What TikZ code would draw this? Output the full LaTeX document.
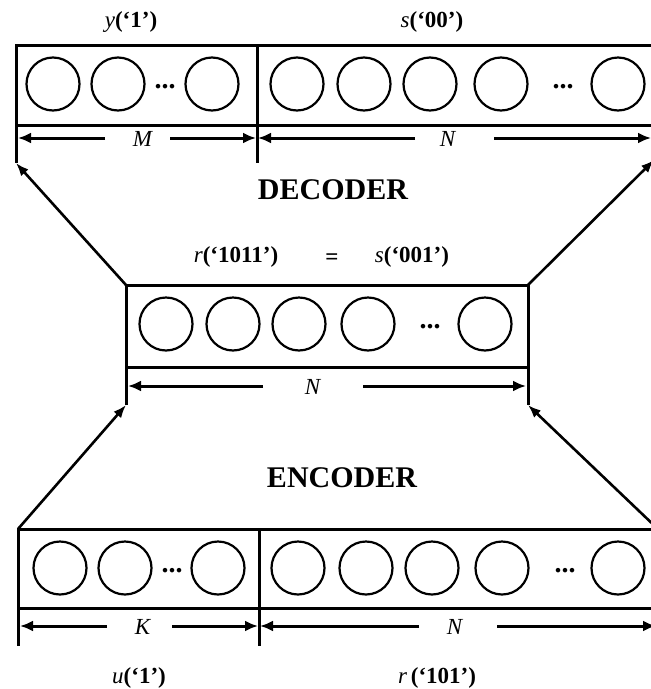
\documentclass[tikz,border=0pt]{standalone}
\usepackage{fontspec}
\setmainfont{Liberation Serif}
\usetikzlibrary{arrows.meta}
\begin{document}
\begin{tikzpicture}[x=1pt,y=-1pt,
 boxst/.style={draw,line width=3pt,rectangle,inner sep=0pt,outer sep=0pt,anchor=north west},
 unitst/.style={draw,circle,line width=2.2pt,minimum size=53pt,inner sep=0pt},
 dotst/.style={font=\fontsize{28}{28}\selectfont\bfseries,inner sep=0pt},
 lblst/.style={font=\fontsize{23}{26}\selectfont,inner sep=0pt},
 titlest/.style={font=\fontsize{30}{34}\selectfont\bfseries,inner sep=0pt},
 tickst/.style={line width=3pt},
 dimst/.style={line width=3pt,-{Latex[length=13pt,width=11pt]}},
 connst/.style={line width=2.6pt,-{Latex[length=13pt,width=10pt]}}]
\useasboundingbox (0,0) rectangle (651,689);
\clip (0,0) rectangle (651,689);

% ---------- top box (decoder output) ----------
\node[boxst,minimum width=638pt,minimum height=80pt] (topbox) at (16,45) {};
\coordinate (tdivt) at (257,45);
\coordinate (tdivb) at (257,163);
\coordinate (tleftb) at (16,163);
\draw[tickst] (tdivt) -- (tdivb);
\draw[tickst] (topbox.south west) -- (tleftb);
\foreach \x/\n in {53/t1,118/t2,212/t3,297/t4,364/t5,430/t6,501/t7,618/t8}
  \node[unitst] (\n) at (\x,84) {};
\node[dotst] (td1) at (165,87) {...};
\node[dotst] (td2) at (563,87) {...};
\node[lblst] (ylbl) at (131,22) {\textit{y}\textbf{(‘1’)}};
\node[lblst] (slbl) at (432,22) {\textit{s}\textbf{(‘00’)}};
% dimensions
\node[lblst] (Mlbl) at (143,139) {\textit{M}};
\node[lblst] (Ntop) at (448,139) {\textit{N}};
\coordinate (m1a) at (105,138); \coordinate (m1b) at (18,138);
\coordinate (m2a) at (170,138); \coordinate (m2b) at (256,138);
\coordinate (n1a) at (415,138); \coordinate (n1b) at (258,138);
\coordinate (n2a) at (494,138); \coordinate (n2b) at (651,138);
\draw[dimst] (m1a) -- (m1b);
\draw[dimst] (m2a) -- (m2b);
\draw[dimst] (n1a) -- (n1b);
\draw[dimst] (n2a) -- (n2b);

\node[titlest] (dec) at (333,190) {DECODER};

% ---------- middle box ----------
\node[boxst,minimum width=402pt,minimum height=82pt] (midbox) at (126,285) {};
\coordinate (mlb) at (126,405);
\coordinate (mrb) at (528,405);
\draw[tickst] (midbox.south west) -- (mlb);
\draw[tickst] (midbox.south east) -- (mrb);
\foreach \x/\n in {166/m1,233/m2,299/m3,368/m4,485/m5}
  \node[unitst] (\n) at (\x,324) {};
\node[dotst] (md) at (430,327) {...};
\node[lblst] (rlbl) at (236,257) {\textit{r}\textbf{(‘1011’)}};
\node[lblst] (eq) at (332,259) {\textbf{=}};
\node[lblst] (s2lbl) at (412,257) {\textit{s}\textbf{(‘001’)}};
\node[lblst] (Nmid) at (313,387) {\textit{N}};
\coordinate (c1a) at (263,386); \coordinate (c1b) at (128,386);
\coordinate (c2a) at (363,386); \coordinate (c2b) at (526,386);
\draw[dimst] (c1a) -- (c1b);
\draw[dimst] (c2a) -- (c2b);

% decoder connectors
\coordinate (trb) at (654,160);
\draw[connst] (midbox.north west) -- (tleftb);
\draw[connst] (midbox.north east) -- (trb);

\node[titlest] (enc) at (342,478) {ENCODER};

% ---------- bottom box (encoder input) ----------
\node[boxst,minimum width=642pt,minimum height=79pt] (botbox) at (18,529) {};
\coordinate (bdivt) at (259,529);
\coordinate (bdivb) at (259,646);
\coordinate (bleftb) at (18,646);
\coordinate (brt) at (660,531);
\draw[tickst] (bdivt) -- (bdivb);
\draw[tickst] (botbox.south west) -- (bleftb);
\foreach \x/\n in {60/b1,125/b2,218/b3,298/b4,366/b5,432/b6,502/b7,618/b8}
  \node[unitst] (\n) at (\x,568) {};
\node[dotst] (bd1) at (172,571) {...};
\node[dotst] (bd2) at (565,571) {...};
\node[lblst] (Klbl) at (143,627) {\textit{K}};
\node[lblst] (Nbot) at (455,627) {\textit{N}};
\coordinate (k1a) at (107,626); \coordinate (k1b) at (20,626);
\coordinate (k2a) at (172,626); \coordinate (k2b) at (258,626);
\coordinate (p1a) at (419,626); \coordinate (p1b) at (260,626);
\coordinate (p2a) at (497,626); \coordinate (p2b) at (656,626);
\draw[dimst] (k1a) -- (k1b);
\draw[dimst] (k2a) -- (k2b);
\draw[dimst] (p1a) -- (p1b);
\draw[dimst] (p2a) -- (p2b);
\node[lblst] (ulbl) at (139,678) {\textit{u}\textbf{(‘1’)}};
\node[lblst] (r2lbl) at (437,678) {\textit{r}\,\textbf{(‘101’)}};

% encoder connectors
\draw[connst] (botbox.north west) -- (mlb);
\draw[connst] (brt) -- (mrb);
\end{tikzpicture}
\end{document}
